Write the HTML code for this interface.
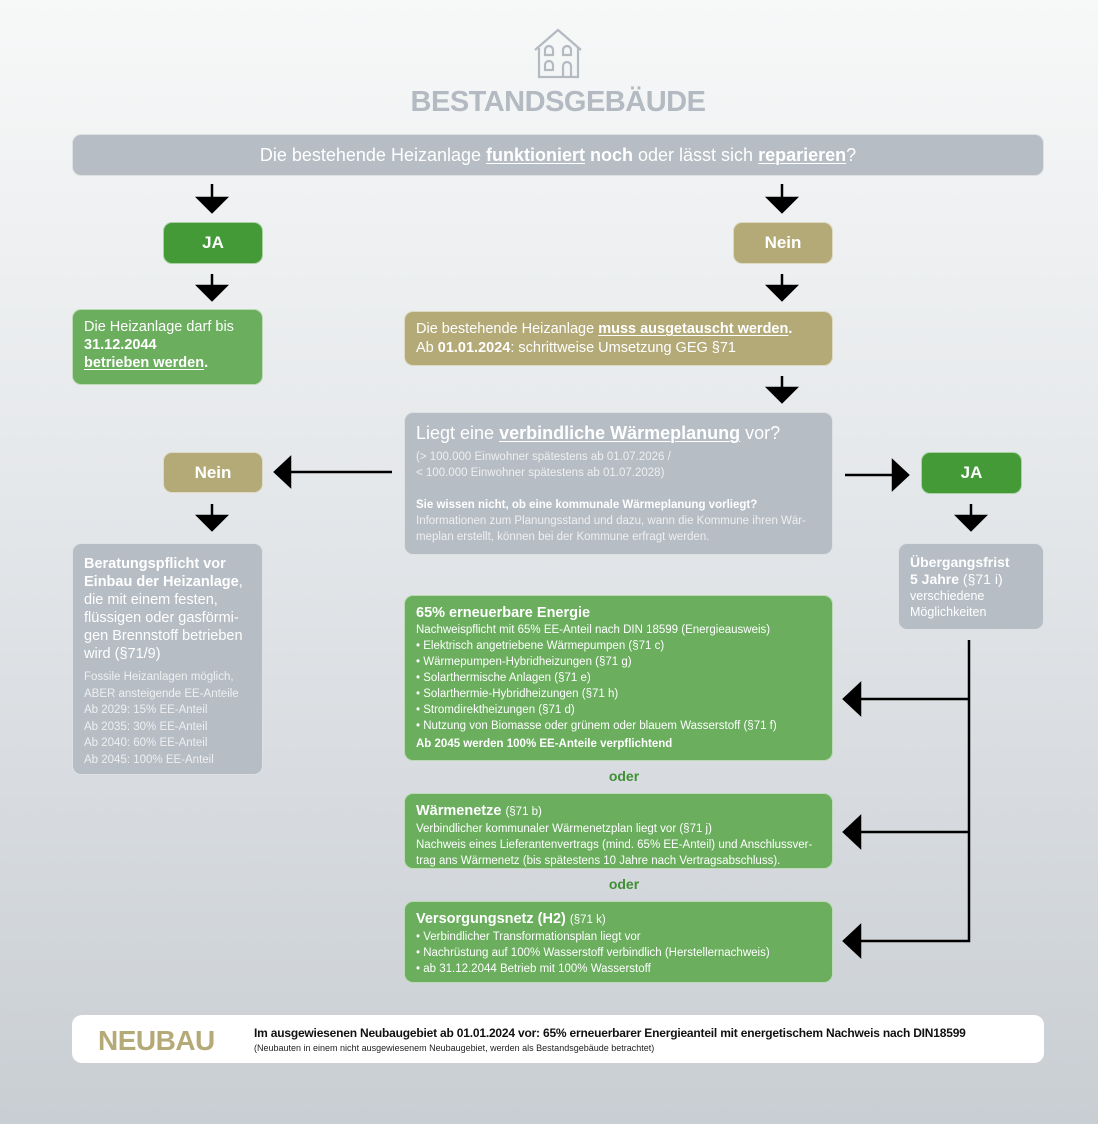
<!DOCTYPE html>
<html><head><meta charset="utf-8">
<style>
*{margin:0;padding:0;box-sizing:border-box}
body{width:1098px;height:1124px;position:relative;overflow:hidden;font-family:"Liberation Sans",sans-serif;background:linear-gradient(#f7f8f8 0%,#e4e7ea 45%,#c9ced3 100%);color:#fff}
.b{position:absolute;border-radius:9px;border:1px solid rgba(255,255,255,.55)}
.g{background:#6aae5e}.dg{background:#439a37}.ol{background:#b4aa78}.gr{background:#b6bdc4}
.lbl{display:flex;align-items:center;justify-content:center;font-weight:bold;font-size:17px}
u{text-decoration:underline;text-decoration-thickness:1px;text-underline-offset:2px}
.t{position:absolute}
.sm{font-size:11.5px;line-height:16px}
</style></head><body>
<svg style="position:absolute;left:0;top:0" width="1098" height="1124">
<g fill="none" stroke="#b3bac2" stroke-width="2.2">
<path d="M535 50 L558 30 L581 50"/><path d="M539 48 V77 H578 V48"/>
<path d="M545 55 v-5 a4 4 0 0 1 8 0 v5 z M563 55 v-5 a4 4 0 0 1 8 0 v5 z M545 70 v-5 a4 4 0 0 1 8 0 v5 z M563 77 v-11 a4 4 0 0 1 8 0 v11"/>
</g>
<g stroke="#000" stroke-width="2.5" fill="#000">
<line x1="212" y1="184" x2="212" y2="200"/><polygon points="198,198 226,198 212,212"/>
<line x1="782" y1="184" x2="782" y2="200"/><polygon points="768,198 796,198 782,212"/>
<line x1="212" y1="274" x2="212" y2="288"/><polygon points="198,286 226,286 212,300"/>
<line x1="782" y1="274" x2="782" y2="288"/><polygon points="768,286 796,286 782,300"/>
<line x1="782" y1="376" x2="782" y2="390"/><polygon points="768,388 796,388 782,402"/>
<line x1="212" y1="504" x2="212" y2="518"/><polygon points="198,516 226,516 212,530"/>
<line x1="971" y1="504" x2="971" y2="518"/><polygon points="957,516 985,516 971,530"/>
<line x1="392" y1="472" x2="288" y2="472"/><polygon points="290,458 290,486 275,472"/>
<line x1="845" y1="475" x2="895" y2="475"/><polygon points="893,461 893,489 908,475"/>
<polyline fill="none" points="969,640 969,941 858,941"/>
<line x1="969" y1="699" x2="858" y2="699"/><line x1="969" y1="832" x2="858" y2="832"/>
<polygon points="860,684 860,714 844,699"/><polygon points="860,817 860,847 844,832"/><polygon points="860,926 860,956 844,941"/>
</g>
</svg>
<div class="t" style="left:0;width:1116px;top:86px;text-align:center;font-size:29px;font-weight:bold;color:#b3bac2;letter-spacing:-.5px">BESTANDSGEBÄUDE</div>
<div class="b gr" style="left:72px;top:134px;width:972px;height:42px;display:flex;align-items:center;justify-content:center;font-size:18px">Die bestehende Heizanlage&nbsp;<b><u>funktioniert</u> noch</b>&nbsp;oder lässt sich&nbsp;<b><u>reparieren</u></b>?</div>
<div class="b dg lbl" style="left:163px;top:222px;width:100px;height:42px">JA</div>
<div class="b ol lbl" style="left:733px;top:222px;width:100px;height:42px">Nein</div>
<div class="b g" style="left:72px;top:309px;width:191px;height:76px;padding:8px 11px;font-size:14.5px;line-height:18px">Die Heizanlage darf bis<br><b>31.12.2044<br><u>betrieben werden</u>.</b></div>
<div class="b ol" style="left:404px;top:311px;width:429px;height:55px;padding:8px 11px;font-size:14.5px;line-height:19px">Die bestehende Heizanlage <b><u>muss ausgetauscht werden</u>.</b><br>Ab <b>01.01.2024</b>: schrittweise Umsetzung GEG §71</div>
<div class="b gr" style="left:404px;top:412px;width:429px;height:143px;padding:9px 11px">
<div style="font-size:18px;line-height:22px">Liegt eine <b><u>verbindliche Wärmeplanung</u></b> vor?</div>
<div class="sm" style="margin-top:5px;color:#eef0f2">(&gt; 100.000 Einwohner spätestens ab 01.07.2026 /<br>&lt; 100.000 Einwohner spätestens ab 01.07.2028)</div>
<div class="sm" style="margin-top:16px"><b>Sie wissen nicht, ob eine kommunale Wärmeplanung vorliegt?</b></div>
<div class="sm" style="color:#eef0f2">Informationen zum Planungsstand und dazu, wann die Kommune ihren Wär-<br>meplan erstellt, können bei der Kommune erfragt werden.</div></div>
<div class="b ol lbl" style="left:163px;top:452px;width:100px;height:41px">Nein</div>
<div class="b dg lbl" style="left:921px;top:452px;width:101px;height:42px">JA</div>
<div class="b gr" style="left:72px;top:543px;width:191px;height:232px;padding:11px 11px">
<div style="font-size:14.5px;line-height:18px"><b>Beratungspflicht vor Einbau der Heizanlage</b>, die mit einem festen, flüssigen oder gasförmi-gen Brennstoff betrieben wird (§71/9)</div>
<div style="font-size:11.5px;line-height:16.5px;margin-top:6px;color:#eef0f2">Fossile Heizanlagen möglich,<br>ABER ansteigende EE-Anteile<br>Ab 2029: 15% EE-Anteil<br>Ab 2035: 30% EE-Anteil<br>Ab 2040: 60% EE-Anteil<br>Ab 2045: 100% EE-Anteil</div></div>
<div class="b gr" style="left:898px;top:543px;width:146px;height:87px;padding:10px 11px;font-size:14px;line-height:17px"><b>Übergangsfrist<br>5 Jahre</b> (§71 i)<div style="font-size:12.5px;line-height:16px">verschiedene<br>Möglichkeiten</div></div>
<div class="b g" style="left:404px;top:595px;width:429px;height:166px;padding:8px 11px">
<div style="font-size:14.5px;font-weight:bold;line-height:18px">65% erneuerbare Energie</div>
<div class="sm">Nachweispflicht mit 65% EE-Anteil nach DIN 18599 (Energieausweis)<br>• Elektrisch angetriebene Wärmepumpen (§71 c)<br>• Wärmepumpen-Hybridheizungen (§71 g)<br>• Solarthermische Anlagen (§71 e)<br>• Solarthermie-Hybridheizungen (§71 h)<br>• Stromdirektheizungen (§71 d)<br>• Nutzung von Biomasse oder grünem oder blauem Wasserstoff (§71 f)</div>
<div class="sm" style="font-weight:bold;margin-top:2px">Ab 2045 werden 100% EE-Anteile verpflichtend</div></div>
<div class="t" style="left:604px;width:40px;top:768px;text-align:center;font-weight:bold;font-size:14px;color:#3f8f34">oder</div>
<div class="b g" style="left:404px;top:793px;width:429px;height:76px;padding:8px 11px">
<div style="font-size:14.5px;line-height:18px"><b>Wärmenetze</b> <span style="font-size:11.5px">(§71 b)</span></div>
<div class="sm">Verbindlicher kommunaler Wärmenetzplan liegt vor (§71 j)<br>Nachweis eines Lieferantenvertrags (mind. 65% EE-Anteil) und Anschlussver-<br>trag ans Wärmenetz (bis spätestens 10 Jahre nach Vertragsabschluss).</div></div>
<div class="t" style="left:604px;width:40px;top:876px;text-align:center;font-weight:bold;font-size:14px;color:#3f8f34">oder</div>
<div class="b g" style="left:404px;top:901px;width:429px;height:82px;padding:8px 11px">
<div style="font-size:14.5px;line-height:18px"><b>Versorgungsnetz (H2)</b> <span style="font-size:11.5px">(§71 k)</span></div>
<div class="sm">• Verbindlicher Transformationsplan liegt vor<br>• Nachrüstung auf 100% Wasserstoff verbindlich (Herstellernachweis)<br>• ab 31.12.2044 Betrieb mit 100% Wasserstoff</div></div>
<div class="b" style="left:72px;top:1015px;width:972px;height:48px;background:#fff;border-radius:10px">
<div class="t" style="left:25px;top:9px;font-size:28px;font-weight:bold;color:#b4aa78;letter-spacing:-.5px">NEUBAU</div>
<div class="t" style="left:181px;top:10px;color:#111;font-size:12px;font-weight:bold;letter-spacing:-.2px">Im ausgewiesenen Neubaugebiet ab 01.01.2024 vor: 65% erneuerbarer Energieanteil mit energetischem Nachweis nach DIN18599</div>
<div class="t" style="left:181px;top:27px;color:#222;font-size:9px">(Neubauten in einem nicht ausgewiesenem Neubaugebiet, werden als Bestandsgebäude betrachtet)</div></div>
</body></html>
